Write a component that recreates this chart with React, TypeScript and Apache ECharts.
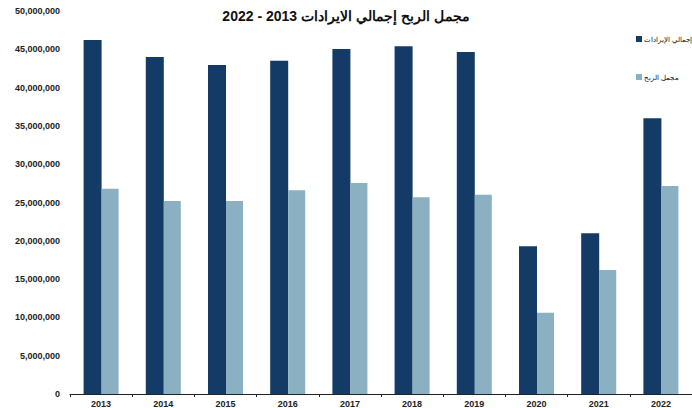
import React, { useEffect, useRef } from "react";
import * as echarts from "echarts";

const categories = ["2013", "2014", "2015", "2016", "2017", "2018", "2019", "2020", "2021", "2022"];
const revenues = [46200000, 44000000, 42950000, 43500000, 45050000, 45400000, 44650000, 19300000, 21000000, 36000000];
const grossProfit = [26800000, 25200000, 25200000, 26600000, 27550000, 25700000, 26000000, 10600000, 16200000, 27150000];
const seriesNames = ["إجمالي الإيرادات", "مجمل الربح"];
const seriesColors = ["#133b65", "#8ab0c2"];
const titleText = "مجمل الربح إجمالي الايرادات 2013 - 2022";

const FONT = "Arial, 'Liberation Sans', sans-serif";

export default function App() {
  const ref = useRef<HTMLDivElement>(null);
  useEffect(() => {
    if (!ref.current) return;
    const chart = echarts.init(ref.current, null, { renderer: "svg" });
    const legendItems: any[] = [];
    seriesNames.forEach((name, i) => {
      const cy = 39 + i * 38;
      legendItems.push({
        type: "rect",
        shape: { x: 636, y: cy - 3, width: 6, height: 6 },
        style: { fill: seriesColors[i] },
      });
      legendItems.push({
        type: "text",
        x: 644,
        y: cy,
        style: { text: name, font: `7px ${FONT}`, fill: "#111", textAlign: "left", textVerticalAlign: "middle" },
      });
    });
    chart.setOption({
      animation: false,
      backgroundColor: "#ffffff",
      title: {
        text: titleText,
        left: 341,
        top: 4,
        textAlign: "center",
        textStyle: { fontFamily: FONT, fontSize: 14, fontWeight: "bold", color: "#111" },
      },
      graphic: legendItems,
      grid: { left: 70, top: 11, width: 627, bottom: 14, containLabel: false },
      xAxis: {
        type: "category",
        data: categories,
        axisLine: { lineStyle: { color: "#222", width: 1 } },
        axisTick: { show: true, length: 3, inside: false, lineStyle: { color: "#222" } },
        axisLabel: { fontFamily: FONT, fontSize: 9, fontWeight: "bold", color: "#222", margin: 5 },
      },
      yAxis: {
        type: "value",
        min: 0,
        max: 50000000,
        interval: 5000000,
        axisLine: { show: false },
        axisTick: { show: false },
        splitLine: { show: false },
        axisLabel: {
          fontFamily: FONT,
          fontSize: 9,
          fontWeight: "bold",
          color: "#222",
          margin: 10,
          formatter: (v: number) => v.toLocaleString("en-US"),
        },
      },
      series: [
        { name: seriesNames[0], type: "bar", data: revenues, barWidth: 18, barGap: "0%", itemStyle: { color: seriesColors[0] } },
        { name: seriesNames[1], type: "bar", data: grossProfit, barWidth: 17, itemStyle: { color: seriesColors[1] } },
      ],
    });
    return () => chart.dispose();
  }, []);
  return <div ref={ref} style={{ width: 692, height: 408, position: "absolute", left: 0, top: 0 }} />;
}
